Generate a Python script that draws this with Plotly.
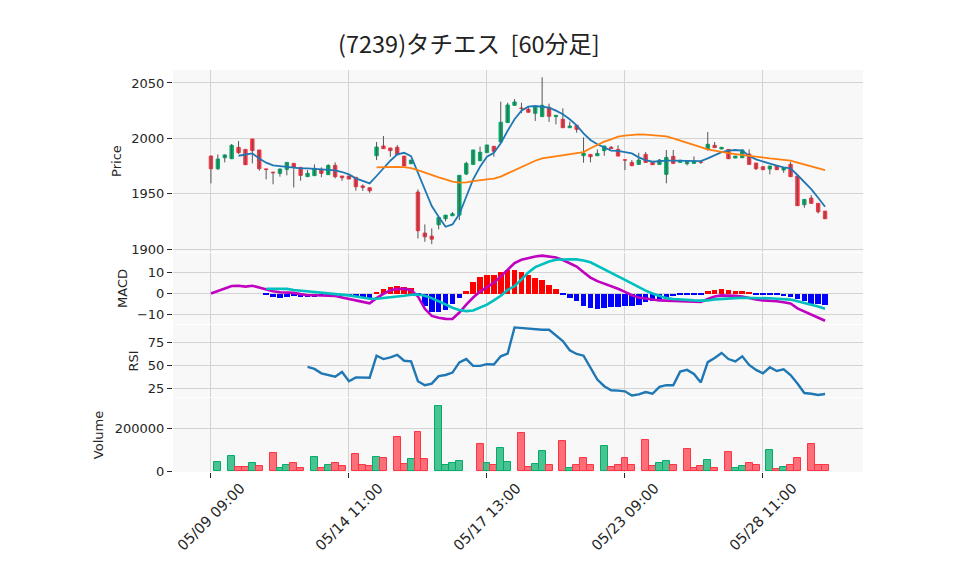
import plotly.graph_objects as go
from plotly.subplots import make_subplots

# ---------------- data ----------------
tick_pos = [0, 20, 40, 60, 80]
tick_labels = ["05/09 09:00", "05/14 11:00", "05/17 13:00", "05/23 09:00", "05/28 11:00"]

opens = [1984.0, 1972.6, 1982.5, 1981.6, 1991.9, 1990.0, 1999.4, 1989.5, 1972.4, 1969.5,
         1968.4, 1972.0, 1977.4, 1973.8, 1965.4, 1966.3, 1972.0, 1967.2, 1975.6, 1966.0,
         1966.0, 1964.8, 1957.0, 1955.4, 1984.3, 1993.1, 1991.3, 1991.9, 1984.0, 1977.1,
         1951.5, 1914.5, 1911.7, 1922.0, 1927.4, 1930.1, 1930.7, 1967.8, 1976.5, 1979.8,
         1987.1, 1992.8, 1996.7, 2014.2, 2029.8, 2027.3, 2026.2, 2022.6, 2019.6, 2028.0,
         2019.6, 2017.2, 2009.6, 2011.7, 1984.3, 1985.5, 1984.3, 1988.9, 1991.9, 1990.0,
         1980.6, 1978.3, 1976.5, 1985.5, 1978.3, 1976.5, 1967.5, 1983.7, 1978.3, 1977.1,
         1977.4, 1978.7, 1990.1, 1993.7, 1990.4, 1990.0, 1982.2, 1982.5, 1985.8, 1977.7,
         1974.4, 1972.3, 1975.6, 1971.4, 1976.5, 1966.0, 1940.1, 1946.1, 1941.3, 1934.3]
highs = [1984.5, 1985.5, 1985.5, 1994.9, 1997.6, 1990.0, 1999.4, 1989.5, 1972.6, 1969.6,
         1972.5, 1978.3, 1977.6, 1973.8, 1971.4, 1976.5, 1973.8, 1976.5, 1978.3, 1966.0,
         1966.0, 1964.8, 1958.4, 1955.4, 1996.7, 2002.1, 1991.3, 1994.0, 1984.0, 1980.4,
         1953.9, 1922.3, 1918.7, 1928.6, 1930.7, 1933.4, 1966.6, 1978.9, 1989.5, 1992.5,
         1994.0, 1992.8, 2033.1, 2032.2, 2035.5, 2032.2, 2028.6, 2028.3, 2055.1, 2031.3,
         2020.8, 2027.1, 2015.0, 2011.7, 2000.9, 1985.5, 1990.0, 1993.1, 1993.1, 1993.7,
         1980.6, 1980.4, 1987.0, 1987.6, 1979.2, 1981.3, 1989.5, 1989.5, 1980.6, 1979.8,
         1983.7, 1979.8, 2005.7, 1996.7, 1992.2, 1990.0, 1984.0, 1990.0, 1990.0, 1977.7,
         1974.4, 1975.0, 1975.6, 1973.5, 1978.6, 1966.0, 1944.9, 1948.8, 1941.3, 1934.3]
lows = [1959.4, 1971.4, 1978.3, 1981.6, 1985.9, 1976.2, 1977.4, 1970.8, 1963.0, 1958.5,
        1965.4, 1966.6, 1955.7, 1961.8, 1965.4, 1966.3, 1964.8, 1967.2, 1963.9, 1961.7,
        1963.3, 1952.7, 1952.7, 1950.9, 1980.4, 1990.7, 1983.4, 1985.2, 1975.0, 1977.1,
        1909.6, 1906.6, 1904.5, 1917.8, 1925.0, 1930.1, 1926.2, 1966.8, 1976.5, 1979.8,
        1987.1, 1983.4, 1996.7, 2014.2, 2029.8, 2022.6, 2023.5, 2015.7, 2019.6, 2014.8,
        2012.6, 2009.6, 2009.6, 2005.1, 1978.0, 1978.3, 1984.3, 1984.3, 1990.7, 1984.0,
        1971.4, 1975.3, 1976.5, 1978.3, 1976.2, 1976.5, 1959.4, 1977.4, 1978.3, 1975.6,
        1977.4, 1976.9, 1988.9, 1991.6, 1990.1, 1981.6, 1982.2, 1982.5, 1976.5, 1971.4,
        1971.7, 1967.5, 1971.7, 1968.9, 1965.4, 1939.2, 1937.4, 1941.3, 1932.2, 1927.4]
closes = [1972.6, 1981.3, 1985.0, 1993.7, 1987.1, 1976.2, 1988.9, 1972.6, 1971.9, 1969.0,
          1972.3, 1978.3, 1973.8, 1966.6, 1968.4, 1972.9, 1968.4, 1975.6, 1965.4, 1964.5,
          1963.3, 1956.3, 1955.7, 1952.7, 1992.2, 1990.7, 1988.9, 1985.2, 1975.0, 1980.4,
          1916.6, 1911.1, 1909.0, 1928.6, 1930.7, 1931.9, 1966.6, 1977.4, 1989.5, 1987.4,
          1994.0, 1988.3, 2014.5, 2030.1, 2032.8, 2027.0, 2023.5, 2028.3, 2029.8, 2019.9,
          2020.8, 2009.6, 2011.1, 2008.1, 1986.7, 1983.4, 1986.4, 1993.1, 1990.7, 1984.0,
          1980.4, 1975.3, 1980.4, 1978.3, 1976.2, 1980.4, 1982.8, 1977.4, 1980.2, 1979.6,
          1979.3, 1978.5, 1994.6, 1991.6, 1991.9, 1981.6, 1984.0, 1989.5, 1976.5, 1972.6,
          1971.7, 1975.0, 1971.7, 1973.5, 1965.4, 1939.2, 1944.9, 1941.3, 1933.7, 1927.4]

N = None
ma5 = [N, N, N, N, 1984.3, 1985.2, 1986.4, 1981.9, 1978.0, 1975.6,
       1975.0, 1973.8, 1973.2, 1972.9, 1972.9, 1972.6, 1972.0, 1971.4, 1971.1, 1969.6,
       1967.5, 1963.9, 1961.4, 1959.3, 1966.0, 1972.9, 1979.8, 1985.5, 1987.0, 1984.0,
       1968.5, 1953.3, 1938.9, 1929.2, 1920.2, 1922.3, 1931.6, 1947.3, 1963.0, 1974.4,
       1983.4, 1987.0, 1995.5, 2006.9, 2017.2, 2025.0, 2028.6, 2029.2, 2028.6, 2027.7,
       2025.0, 2021.7, 2017.2, 2011.7, 2004.5, 1998.5, 1994.6, 1991.6, 1988.9, 1988.6,
       1987.3, 1986.4, 1982.8, 1980.4, 1978.9, 1979.5, 1979.8, 1979.8, 1979.8, 1979.8,
       1979.8, 1979.5, 1981.9, 1984.9, 1987.6, 1988.9, 1989.5, 1988.9, 1984.0, 1981.0,
       1978.9, 1976.8, 1975.3, 1973.8, 1972.9, 1966.9, 1960.8, 1954.2, 1946.4, 1938.3]
ma25 = [N] * 24 + [
       1973.8, 1974.1, 1974.4, 1974.2, 1974.1, 1973.2,
       1971.4, 1969.0, 1966.9, 1964.8, 1963.0, 1960.9, 1960.0, 1960.2, 1961.4, 1962.4,
       1963.0, 1963.6, 1965.4, 1968.4, 1971.4, 1974.4, 1977.4, 1979.8, 1981.9, 1982.8,
       1983.7, 1984.6, 1985.5, 1986.4, 1987.6, 1991.0, 1994.3, 1997.0, 1999.1, 2001.5,
       2002.5, 2003.3, 2003.6, 2003.3, 2002.7, 2002.4, 2001.8, 2000.0, 1997.9, 1996.1,
       1994.0, 1991.9, 1990.1, 1988.9, 1987.6, 1986.7, 1985.8, 1984.9, 1984.0, 1983.1,
       1982.5, 1981.9, 1981.3, 1980.4, 1979.8, 1978.0, 1976.5, 1975.0, 1973.2, 1971.4]

macd = [0.0, 1.1, 2.2, 3.6, 3.7, 3.3, 3.7, 2.8, 1.7, 1.1,
        0.6, 0.6, 0.3, -0.3, -0.8, -0.8, -0.9, -0.9, -1.2, -1.9,
        -2.5, -3.3, -4.0, -4.7, -2.2, -0.2, 1.6, 2.2, 2.2, 1.7,
        -1.4, -7.3, -10.7, -11.6, -12.1, -12.2, -9.1, -5.3, -1.9, 0.9,
        2.9, 5.1, 8.2, 11.5, 14.5, 16.1, 16.9, 17.7, 18.1, 17.7,
        17.2, 16.0, 14.4, 12.9, 10.2, 7.6, 5.9, 4.8, 3.7, 2.3,
        0.8, -0.8, -1.9, -2.5, -2.9, -3.3, -3.4, -3.6, -3.7, -3.9,
        -4.0, -4.0, -2.6, -1.4, -0.9, -0.9, -1.1, -1.4, -2.2, -2.9,
        -3.3, -3.4, -3.7, -4.2, -4.8, -7.1, -8.5, -9.9, -11.3, -13.0]
signal = [N] * 8 + [
        2.3, 2.3,
        2.3, 2.2, 1.7, 1.4, 0.9, 0.6, 0.3, 0.0, -0.3, -0.6,
        -0.9, -1.4, -1.9, -2.5, -2.5, -2.2, -1.7, -1.4, -1.1, -0.6,
        -0.5, -1.1, -2.2, -3.7, -5.3, -6.8, -7.9, -8.4, -8.1, -6.8,
        -5.3, -3.3, -1.1, 1.7, 3.5, 6.7, 10.1, 12.6, 14.1, 15.3,
        16.1, 16.4, 16.4, 16.3, 15.8, 14.9, 13.3, 11.8, 9.9, 8.2,
        6.5, 4.7, 2.8, 1.4, 0.0, -1.1, -2.2, -2.6, -2.9, -3.1,
        -3.3, -3.4, -3.3, -2.8, -2.5, -2.3, -2.2, -2.0, -2.0, -2.2,
        -2.2, -2.3, -2.5, -2.6, -2.9, -3.7, -4.5, -5.3, -6.2, -7.3]
hist = [N] * 8 + [
        -0.8, -1.6,
        -1.9, -1.4, -1.2, -1.4, -1.6, -1.5, -1.2, -1.0, -0.9, -1.0,
        -1.2, -1.4, -1.5, -1.9, 0.3, 2.0, 3.1, 3.6, 3.0, 2.6,
        -0.9, -6.0, -8.8, -8.8, -8.0, -4.8, -2.3, 1.2, 5.4, 7.8,
        9.1, 9.1, 10.5, 11.3, 11.3, 10.3, 9.1, 7.3, 6.4, 4.0,
        2.2, -0.3, -1.9, -3.3, -5.7, -7.1, -7.3, -6.8, -6.4, -6.4,
        -6.0, -6.0, -5.3, -4.2, -3.3, -2.6, -1.7, -1.1, -0.9, -0.8,
        -0.6, -0.3, 1.2, 1.7, 2.2, 1.7, 1.4, 1.4, 0.5, -0.5,
        -0.9, -0.9, -0.9, -1.1, -1.4, -2.6, -3.7, -4.8, -4.8, -5.6]

rsi = [N] * 14 + [
        48.5, 46.3, 41.4, 39.6, 37.7, 42.9,
        32.8, 37.0, 37.0, 36.6, 60.8, 57.1, 59.0, 61.6, 55.2, 54.5,
        32.8, 28.4, 30.2, 38.4, 39.6, 42.2, 53.4, 57.1, 49.6, 49.6,
        51.5, 51.1, 60.1, 63.1, 91.8, 91.0, 90.7, 89.9, 89.2, 89.2,
        83.2, 76.9, 66.8, 62.7, 60.8, 48.1, 34.6, 27.3, 22.8, 22.4,
        21.7, 17.2, 18.3, 20.9, 19.0, 26.5, 28.4, 28.4, 43.3, 45.2,
        40.7, 31.4, 53.7, 58.2, 63.8, 57.1, 54.5, 60.1, 50.7, 45.2,
        41.4, 48.1, 44.0, 45.9, 39.6, 30.2, 19.8, 19.0, 17.6, 18.7]

volume = [N, 43600, N, 70700, 16500, 16500, 39100, 21100, N, 84200,
          12000, 25600, 39100, 12000, N, 66200, 12000, 25600, 39100, 21100,
          N, 79700, 25600, 21100, 66200, 61700, N, 156400, 34600, 57200,
          183500, 57200, N, 300800, 30100, 39100, 48100, N, N, 124800,
          39100, 30100, 106800, 43600, N, 179000, 16500, 34600, 93200, 25600,
          N, 138400, 12000, 25600, 61700, 25600, N, 115800, 16500, 30100,
          61700, 30100, N, 142900, 21100, 39100, 48100, 30100, N, 102300,
          12000, 21100, 52600, 12000, N, 88700, 12000, 21100, 39100, 25600,
          N, 97800, 7500, 16500, 30100, 61700, N, 124800, 25600, 30100]

# ---------------- styling ----------------
GREEN = "#00ad68"
RED = "#ff3342"
GREEN_V = "rgba(0,173,104,0.7)"
RED_V = "rgba(255,51,66,0.7)"
JP_FONT = "Noto Sans CJK JP"
FONT = "DejaVu Sans"
TXT = "#262626"

n = len(closes)
x = list(range(n))

fig = make_subplots(rows=4, cols=1, shared_xaxes=True, vertical_spacing=0.004,
                    row_heights=[5, 2, 2, 2])

# wicks (drawn underneath bodies)
wx, wy = [], []
for i in range(n):
    wx += [x[i], x[i], None]
    wy += [lows[i], highs[i], None]
fig.add_trace(go.Scatter(x=wx, y=wy, mode="lines", line=dict(color="#555555", width=1),
                         hoverinfo="skip", showlegend=False), row=1, col=1)

body_hi = [max(o, c) for o, c in zip(opens, closes)]
body_lo = [min(o, c) for o, c in zip(opens, closes)]
fig.add_trace(go.Candlestick(x=x, open=opens, high=body_hi, low=body_lo, close=closes,
                             increasing=dict(line=dict(color=GREEN, width=1), fillcolor=GREEN),
                             decreasing=dict(line=dict(color=RED, width=1), fillcolor=RED),
                             whiskerwidth=0, showlegend=False), row=1, col=1)
fig.add_trace(go.Scatter(x=x, y=ma5, mode="lines", line=dict(color="#1f77b4", width=1.8),
                         showlegend=False), row=1, col=1)
fig.add_trace(go.Scatter(x=x, y=ma25, mode="lines", line=dict(color="#ff7f0e", width=1.8),
                         showlegend=False), row=1, col=1)

# MACD
hist_colors = ["#ff0000" if (h is not None and h >= 0) else "#0000ff" for h in hist]
fig.add_trace(go.Bar(x=x, y=hist, marker=dict(color=hist_colors, line=dict(width=0)),
                     width=0.8, showlegend=False), row=2, col=1)
fig.add_trace(go.Scatter(x=x, y=macd, mode="lines", line=dict(color="#bf00bf", width=2.6),
                         showlegend=False), row=2, col=1)
fig.add_trace(go.Scatter(x=x, y=signal, mode="lines", line=dict(color="#00bfbf", width=2.6),
                         showlegend=False), row=2, col=1)

# RSI
fig.add_trace(go.Scatter(x=x, y=rsi, mode="lines", line=dict(color="#1f77b4", width=2.4),
                         showlegend=False), row=3, col=1)

# Volume (colour by close vs previous close)
vfill, vline = [], []
for i in range(n):
    up = i > 0 and closes[i] >= closes[i - 1]
    vfill.append(GREEN_V if up else RED_V)
    vline.append(GREEN if up else RED)
fig.add_trace(go.Bar(x=x, y=volume, marker=dict(color=vfill, line=dict(color=vline, width=1)),
                     width=1.0, showlegend=False), row=4, col=1)

# ---------------- layout ----------------
GRID = "#d3d3d3"
BG = "#f8f8f8"
axis_common = dict(showgrid=True, gridcolor=GRID, gridwidth=1, zeroline=False, showline=False,
                   tickfont=dict(family=FONT, size=13, color=TXT))

domains = [[0.547, 1.0], [0.368, 0.545], [0.186, 0.366], [0.0, 0.184]]
for r in range(1, 5):
    fig.update_xaxes(row=r, col=1, range=[-5.5, 94.5], tickmode="array", tickvals=tick_pos,
                     ticktext=tick_labels, rangeslider=dict(visible=False),
                     showticklabels=False, **axis_common)
fig.update_xaxes(row=4, col=1, ticks="outside", ticklen=5, tickcolor=TXT)
for r in range(1, 4):
    fig.update_xaxes(row=r, col=1, ticks="")

# rotated date labels, centred under their ticks
for tp, tl in zip(tick_pos, tick_labels):
    fig.add_annotation(x=tp, xref="x4", y=-0.112, yref="paper", text=tl, showarrow=False,
                       textangle=-45, xanchor="center", yanchor="middle",
                       font=dict(family=FONT, size=14.5, color=TXT))

ytitle_font = dict(family=FONT, size=13, color=TXT)
ycommon = dict(ticks="outside", ticklen=5, tickcolor=TXT, **axis_common)
fig.update_yaxes(row=1, col=1, domain=domains[0], range=[1897.3, 2061.7], tickvals=[1900, 1950, 2000, 2050],
                 title=dict(text="Price", font=ytitle_font, standoff=6), **ycommon)
fig.update_yaxes(row=2, col=1, domain=domains[1], range=[-14.6, 19.4], tickvals=[-10, 0, 10],
                 title=dict(text="MACD", font=ytitle_font, standoff=6), **ycommon)
fig.update_yaxes(row=3, col=1, domain=domains[2], range=[15.2, 94.6], tickvals=[25, 50, 75],
                 title=dict(text="RSI", font=ytitle_font, standoff=6), **ycommon)
fig.update_yaxes(row=4, col=1, domain=domains[3], range=[-4600, 339500], tickvals=[0, 200000],
                 tickformat="d", title=dict(text="Volume", font=ytitle_font, standoff=8), **ycommon)

fig.update_layout(
    width=958, height=575,
    margin=dict(l=165, r=103, t=62, b=111),
    paper_bgcolor="white", plot_bgcolor=BG,
    title=dict(text="(7239)タチエス  [60分足]", x=0.481, xref="container", xanchor="center",
               y=0.936, yanchor="middle", font=dict(family=JP_FONT, size=23.5, color="#222222")),
    font=dict(family=FONT, size=13, color=TXT),
    showlegend=False,
    bargap=0,
)

fig.write_html("out.html")
